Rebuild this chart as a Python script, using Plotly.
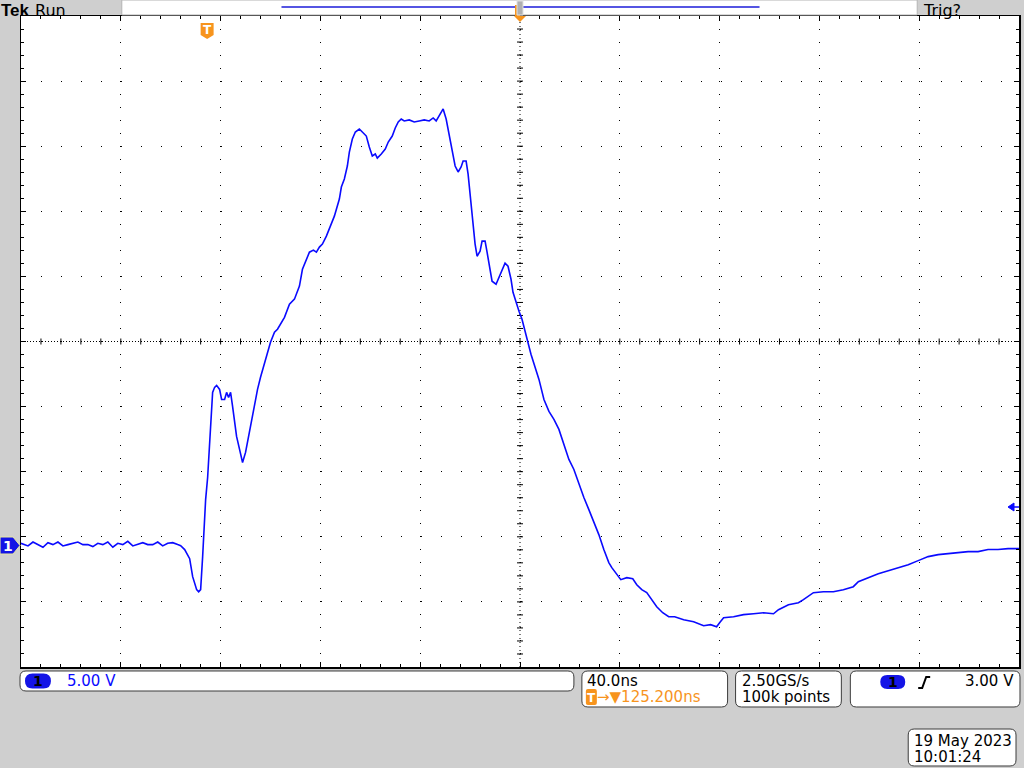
import plotly.graph_objects as go

# ---------------- data (read from the scope screen) ----------------
# time relative to trigger (ns), 40 ns/div, screen centre at +125.2 ns
time_ns = [
    -74.8, -72, -70, -68, -66, -64, -62, -60, -58, -56, -54, -52, -50, -48, -46, -44,
    -42, -40, -38, -36, -34, -32, -30, -28, -26, -24, -22, -20, -18, -16, -14, -12,
    -10.8, -9.2, -7.2, -6.0, -4.4, -3.6, -2.8, -2.0, -0.8, 0, 0.8, 1.6, 2.0, 2.8, 3.6, 4.8,
    5.6, 6.8, 7.6, 8.4, 9.2, 10.0, 10.8, 11.6, 12.8, 14.0, 15.2, 16.4, 17.6, 18.8, 20.0, 21.2,
    22.8, 24.0, 25.2, 26.8, 28.0, 30.8, 32.8, 34.8,
    36.8, 38.0, 39.6, 40.8, 42.4, 43.6, 44.8, 46.0, 47.6, 48.8,
    50.8, 52.8, 53.6, 54.8, 56.0, 56.8, 58.0, 59.2, 60.8, 62.0,
    63.6, 64.8, 66.0, 67.2, 68.0, 69.6, 71.2, 72.4, 74.0, 75.2,
    76.4, 77.6, 78.8, 80.8, 82.8, 84.8, 86.8, 88.8, 90.4, 91.6,
    92.8, 94.4, 95.6, 96.8, 98.0, 99.2, 100.4, 101.6, 102.4, 103.6,
    104.4, 105.2, 106.4, 107.2, 108.0, 109.2, 110.0, 111.2, 112.0, 113.2,
    114.0, 115.6, 116.8, 118.0, 119.2, 120.4, 121.6, 122.4, 123.6, 124.8,
    126.0, 127.2, 128.4, 129.6,
    132.8, 134.8, 136.8, 138.8, 140.8, 142.8, 144.8, 146.8, 148.8, 150.8,
    152.8, 154.8, 156.8, 158.8, 160.8, 162.0, 164.0, 165.6, 168.0, 170.4,
    172.0, 174.0, 176.0, 178.0, 180.0, 182.4, 184.8, 187.2, 190.8, 194.8,
    198.8, 201.6, 204.0, 205.2, 206.8, 210.8, 214.8, 218.8, 222.8, 226.8,
    228.8, 232.8, 236.8, 238.8, 242.8, 246.8, 250.8, 254.8, 258.8, 260.8,
    264.8, 268.8, 272.8, 276.8, 280.8, 284.8, 288.8, 292.8, 296.8, 300.8,
    304.8, 308.8, 312.8, 316.8, 320.8, 325.2,
]
volts = [
    0.1, -0.1, 0.2, 0.0, -0.2, 0.15, 0.0, 0.2, -0.1, 0.0, 0.1, 0.2, 0.0, 0.0, -0.15, 0.1,
    0.0, 0.2, -0.2, 0.1, 0.0, 0.25, -0.1, 0.0, 0.15, 0.0, 0.0, 0.2, -0.1, 0.1, 0.15, 0.0,
    -0.08, -0.38, -1.08, -2.46, -3.46, -3.62, -3.46, -0.92, 3.46, 5.15, 7.69, 9.85, 11.69, 12.08, 12.23, 11.92,
    11.15, 11.15, 11.69, 11.31, 11.69, 10.62, 9.62, 8.31, 7.31, 6.31, 7.08, 8.31, 9.62, 10.92, 11.92, 12.85,
    14.0, 14.77, 15.54, 16.31, 16.54, 17.46, 18.46, 18.85,
    19.85, 21.15, 21.92, 22.46, 22.62, 22.46, 22.85, 23.08, 23.69, 24.23,
    25.23, 26.54, 27.46, 28.08, 29.08, 30.15, 31.15, 31.69, 31.92, 31.69,
    31.38, 30.54, 29.85, 30.0, 29.69, 30.0, 30.38, 30.92, 31.38, 32.0,
    32.46, 32.69, 32.54, 32.62, 32.46, 32.54, 32.62, 32.54, 32.77, 32.54,
    32.92, 33.46, 32.69, 31.38, 30.15, 29.08, 28.62, 29.0, 29.46, 29.46,
    28.46, 26.92, 24.77, 23.08, 22.15, 22.54, 23.31, 23.31, 22.46, 21.15,
    20.23, 20.0, 20.54, 21.0, 21.62, 21.38, 20.38, 19.38, 18.62, 17.92,
    17.31, 16.38, 15.54, 14.62,
    12.69, 11.15, 10.23, 9.62, 8.85, 7.69, 6.54, 5.77, 4.62, 3.62,
    2.69, 1.77, 0.77, -0.38, -1.38, -1.77, -2.31, -2.69, -2.54, -2.62,
    -3.08, -3.46, -3.69, -4.23, -4.77, -5.23, -5.54, -5.54, -5.77, -5.92,
    -6.23, -6.15, -6.31, -6.0, -5.62, -5.54, -5.38, -5.31, -5.23, -5.31,
    -5.0, -4.62, -4.46, -4.23, -3.69, -3.62, -3.62, -3.46, -3.23, -2.85,
    -2.54, -2.23, -2.0, -1.77, -1.54, -1.23, -0.92, -0.77, -0.69, -0.62,
    -0.54, -0.54, -0.38, -0.38, -0.31, -0.31,
]

# scope settings
T_CENTER = 125.2      # ns at screen centre (trigger delay)
T_DIV = 40.0          # ns/div
V_DIV = 5.0           # V/div
V_CENTER = 15.6       # volts at screen centre (ground marker 3.12 div below)

status_texts = {
    "scale": "5.00 V",
    "timebase": "40.0ns",
    "delay": "\u2192\u25bc125.200ns",
    "rate": "2.50GS/s",
    "points": "100k points",
    "trig": "3.00 V",
    "date": "19 May 2023",
    "time": "10:01:24",
}

# ---------------- layout geometry ----------------
W, H = 1024, 768
L, R, T, B = 21, 1021, 16, 667

def px(x):
    return (x - L) / (R - L)

def py(y):
    return (B - y) / (B - T)

def path(cmds, close=True):
    out = []
    for c in cmds:
        op = c[0]
        pts = c[1:]
        coords = []
        for i in range(0, len(pts), 2):
            coords.append(f"{px(pts[i]):.5f},{py(pts[i+1]):.5f}")
        out.append(op + " ".join(coords))
    return " ".join(out) + (" Z" if close else "")

def rrect(x0, y0, x1, y1, r):
    return path([
        ("M", x0 + r, y0), ("L", x1 - r, y0), ("Q", x1, y0, x1, y0 + r),
        ("L", x1, y1 - r), ("Q", x1, y1, x1 - r, y1), ("L", x0 + r, y1),
        ("Q", x0, y1, x0, y1 - r), ("L", x0, y0 + r), ("Q", x0, y0, x0 + r, y0),
    ])

BLUE = "#0a0aff"
ORANGE = "#f7941d"
GRAY_BG = "#cfcfcf"
FONT = "DejaVu Sans"

x_lo, x_hi = T_CENTER - 5 * T_DIV, T_CENTER + 5 * T_DIV
y_lo, y_hi = V_CENTER - 5 * V_DIV, V_CENTER + 5 * V_DIV

fig = go.Figure()
fig.add_trace(go.Scatter(x=time_ns, y=volts, mode="lines",
                         line=dict(color=BLUE, width=1.6), hoverinfo="skip",
                         showlegend=False))

shapes = []
# centre cross lines (dense dots)
shapes.append(dict(type="line", xref="x", yref="y", x0=T_CENTER, x1=T_CENTER,
                   y0=y_lo, y1=y_hi, line=dict(color="black", width=1, dash="1px,3px"),
                   layer="below"))
shapes.append(dict(type="line", xref="x", yref="y", x0=x_lo, x1=x_hi,
                   y0=V_CENTER, y1=V_CENTER, line=dict(color="black", width=1, dash="1px,2px"),
                   layer="below"))
# ticks on centre lines
for k in range(-24, 25):
    v = V_CENTER + k * V_DIV / 5
    shapes.append(dict(type="line", xref="x", yref="y", xsizemode="pixel", xanchor=T_CENTER,
                       x0=-3, x1=3, y0=v, y1=v, line=dict(color="black", width=1),
                       layer="below"))
    t = T_CENTER + k * T_DIV / 5
    shapes.append(dict(type="line", xref="x", yref="y", ysizemode="pixel", yanchor=V_CENTER,
                       y0=-3, y1=3, x0=t, x1=t, line=dict(color="black", width=1),
                       layer="below"))

# top record bar
shapes.append(dict(type="path", xref="paper", yref="paper", path=path([("M", 122, 0), ("L", 919, 0), ("L", 919, 15), ("L", 122, 15)]),
                   fillcolor="white", line=dict(color="#b4b4b4", width=1)))
shapes.append(dict(type="line", xref="paper", yref="paper", x0=px(282), x1=px(761), y0=py(7), y1=py(7),
                   line=dict(color="#1c1cd8", width=1.5)))
shapes.append(dict(type="path", xref="paper", yref="paper", path=path([("M", 516, 5), ("L", 521, 5), ("L", 521, 16), ("L", 516, 16)]),
                   fillcolor=ORANGE, line=dict(width=0)))
shapes.append(dict(type="path", xref="paper", yref="paper", path=path([("M", 518, 1), ("L", 524, 1), ("L", 524, 15), ("L", 518, 15)]),
                   fillcolor="#b0b0b0", line=dict(color="#e0e0e0", width=1)))
shapes.append(dict(type="path", xref="paper", yref="paper", path=path([("M", 515, 16), ("L", 527, 16), ("L", 521, 22)]),
                   fillcolor=ORANGE, line=dict(width=0)))
# trigger position marker
shapes.append(dict(type="path", xref="paper", yref="paper",
                   path=path([("M", 201, 23), ("L", 214, 23), ("L", 214, 35), ("L", 207.5, 39), ("L", 201, 35)]),
                   fillcolor=ORANGE, line=dict(width=0)))
# ground marker (channel 1)
shapes.append(dict(type="path", xref="paper", yref="paper",
                   path=path([("M", 0, 537), ("L", 13, 537), ("L", 20, 545.5), ("L", 13, 554), ("L", 0, 554)]),
                   fillcolor="#1414e6", line=dict(color="#e8e8a0", width=1)))
# trigger level arrow on right
shapes.append(dict(type="path", xref="paper", yref="paper",
                   path=path([("M", 1010, 507), ("L", 1016, 503), ("L", 1016, 511)]),
                   fillcolor=BLUE, line=dict(color=BLUE, width=1)))
shapes.append(dict(type="line", xref="paper", yref="paper", x0=px(1015), x1=px(1021), y0=py(507), y1=py(507),
                   line=dict(color=BLUE, width=1.5)))

# bottom readout boxes
BOX_LINE = dict(color="#3c3c3c", width=1)
for (x0, y0, x1, y1) in [(20, 671, 575, 691), (583, 671, 729, 707), (737, 671, 843, 707),
                         (852, 671, 1022, 707), (910, 729, 1018, 766)]:
    shapes.append(dict(type="path", xref="paper", yref="paper", path=rrect(x0, y0, x1, y1, 6),
                       fillcolor="white", line=BOX_LINE))
# channel pills
shapes.append(dict(type="path", xref="paper", yref="paper", path=rrect(25, 673.5, 51, 688.5, 7.5),
                   fillcolor="#1414e6", line=dict(width=0)))
shapes.append(dict(type="path", xref="paper", yref="paper", path=rrect(882, 675, 907, 689, 7),
                   fillcolor="#1414e6", line=dict(width=0)))
# orange T in delay readout
shapes.append(dict(type="path", xref="paper", yref="paper", path=rrect(587, 689, 598, 705, 2),
                   fillcolor=ORANGE, line=dict(width=0)))
# rising edge symbol
shapes.append(dict(type="path", xref="paper", yref="paper",
                   path=path([("M", 920, 688), ("L", 924, 688), ("L", 928, 677), ("L", 932, 677)], close=False),
                   line=dict(color="black", width=2)))

ann = []
def text(x, y, s, size=15, color="black", bold=False, family=FONT, anchor="left", yanchor="middle"):
    if bold:
        s = f"<b>{s}</b>"
    ann.append(dict(xref="paper", yref="paper", x=px(x), y=py(y), text=s, showarrow=False,
                    xanchor=anchor, yanchor=yanchor, borderpad=0,
                    font=dict(size=size, color=color, family=family)))

text(0, 0, "Tek", size=17, bold=True, family="Liberation Sans", yanchor="top")
text(34, 0, "Run", size=16, yanchor="top")
text(924, 0, "Trig?", size=16, yanchor="top")
text(207.5, 30, "T", size=12, color="white", bold=True, anchor="center")
text(7.5, 545.5, "1", size=14, color="white", bold=True, anchor="center")
text(38, 681, "1", size=14, color="black", bold=True, anchor="center")
text(894.5, 682, "1", size=14, color="black", bold=True, anchor="center")
text(66, 681, status_texts["scale"], color=BLUE)
text(587, 681, status_texts["timebase"])
text(592.5, 697.5, "T", size=12, color="white", bold=True, anchor="center")
text(597, 697, status_texts["delay"], color=ORANGE)
text(742, 681, status_texts["rate"])
text(742, 697, status_texts["points"])
text(1017, 681, status_texts["trig"], anchor="right")
text(915, 741, status_texts["date"])
text(915, 757, status_texts["time"])

axis_common = dict(showline=True, linecolor="black", linewidth=1.5, mirror="ticks",
                   ticks="inside", ticklen=5, tickcolor="black", tickwidth=1,
                   showticklabels=False, zeroline=False, showgrid=True,
                   gridcolor="black", gridwidth=1, fixedrange=True)

fig.update_layout(
    width=W, height=H,
    margin=dict(l=L, r=W - R, t=T, b=H - B, pad=0),
    paper_bgcolor=GRAY_BG, plot_bgcolor="white",
    showlegend=False,
    xaxis=dict(range=[x_lo, x_hi], tickmode="linear", tick0=x_lo, dtick=T_DIV,
               griddash="1px,12px",
               minor=dict(ticks="inside", ticklen=3, dtick=T_DIV / 5, tick0=x_lo,
                          tickcolor="black", showgrid=False),
               **axis_common),
    yaxis=dict(range=[y_lo, y_hi], tickmode="linear", tick0=y_lo, dtick=V_DIV,
               griddash="1px,19px",
               minor=dict(ticks="inside", ticklen=3, dtick=V_DIV / 5, tick0=y_lo,
                          tickcolor="black", showgrid=False),
               **axis_common),
    shapes=shapes,
    annotations=ann,
)

fig.write_html("out.html", config={"displayModeBar": False, "staticPlot": True},
               post_script="document.body.style.margin='0';")
